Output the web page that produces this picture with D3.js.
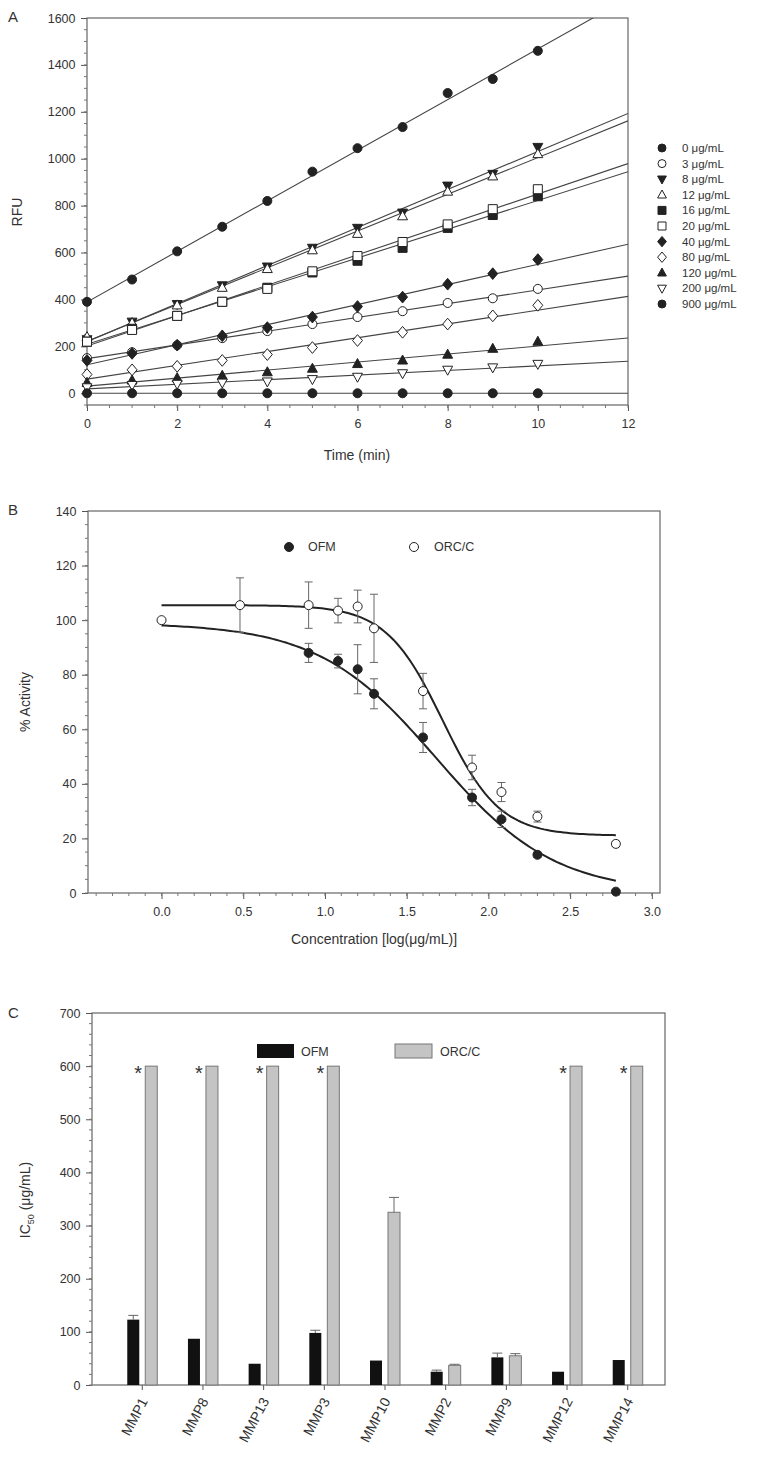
<!DOCTYPE html>
<html><head><meta charset="utf-8">
<script src="https://cdn.jsdelivr.net/npm/d3@7"></script>
<style>body{margin:0;background:#fff}text{font-family:"Liberation Sans",Arial,sans-serif;fill:#333}</style>
</head><body><svg id="c" width="766" height="1473"></svg>
<script>
// ---- Panel A data ----
const timeMin = [0,1,2,3,4,5,6,7,8,9,10];
const concLabels = ['0 μg/mL','3 μg/mL','8 μg/mL','12 μg/mL','16 μg/mL','20 μg/mL','40 μg/mL','80 μg/mL','120 μg/mL','200 μg/mL','900 μg/mL'];
const concSymbols = ['circle-f','circle-o','tridown-f','triup-o','square-f','square-o','diamond-f','diamond-o','triup-f','tridown-o','circle-f'];
const rfu = [
  [390,485,605,710,820,945,1045,1135,1280,1340,1460],
  [150,175,205,235,265,295,325,350,385,405,445],
  [230,305,380,460,540,620,705,770,885,935,1050],
  [240,300,375,450,530,610,680,755,860,925,1020],
  [220,275,330,390,450,515,565,620,705,760,840],
  [220,270,330,390,445,520,585,645,720,785,870],
  [140,170,205,245,280,325,370,410,465,510,570],
  [80,100,115,140,165,195,225,260,295,330,375],
  [45,55,65,75,90,105,125,140,165,190,220],
  [25,35,40,45,50,60,70,85,100,110,125],
  [0,0,0,0,0,0,0,0,0,0,0]
];
// ---- Panel B data ----
const ofmB = [[0.9,88,3.5],[1.08,85,2.5],[1.2,82,9],[1.3,73,5.5],[1.6,57,5.5],[1.9,35,3],[2.08,27,3],[2.3,14,1],[2.78,0.5,0]];
const orcB = [[0,100,0],[0.48,105.5,10],[0.9,105.5,8.5],[1.08,103.5,4.5],[1.2,105,6],[1.3,97,12.5],[1.6,74,6.5],[1.9,46,4.5],[2.08,37,3.5],[2.3,28,2],[2.78,18,1]];
const ofmFit = {top:99, bottom:0, x0:1.68, h:1.2};
const orcFit = {top:105.5, bottom:21, x0:1.72, h:2.5};
// ---- Panel C data ----
const mmps = ['MMP1','MMP8','MMP13','MMP3','MMP10','MMP2','MMP9','MMP12','MMP14'];
const ofmIC = [123,87,40,98,46,25,52,25,47];
const ofmErr = [8,0,0,5,0,3,8,0,0];
const orcIC = [600,600,600,600,325,37,55,600,600];
const orcErr = [0,0,0,0,28,2,4,0,0];
const starred = [true,true,true,true,false,false,false,true,true];

const svg = d3.select('#c');
const ink = '#222';

function sym(g, type, x, y, r) {
  const [shape, fill] = type.split('-');
  let el;
  if (shape === 'circle') el = g.append('circle').attr('cx', x).attr('cy', y).attr('r', r);
  else {
    let pts;
    if (shape === 'square') pts = [[-r,-r],[r,-r],[r,r],[-r,r]];
    if (shape === 'diamond') pts = [[0,-r*1.3],[r*1.1,0],[0,r*1.3],[-r*1.1,0]];
    if (shape === 'triup') pts = [[0,-r*1.2],[r*1.1,r*0.8],[-r*1.1,r*0.8]];
    if (shape === 'tridown') pts = [[0,r*1.2],[r*1.1,-r*0.8],[-r*1.1,-r*0.8]];
    el = g.append('polygon').attr('points', pts.map(p => [x+p[0], y+p[1]].join(',')).join(' '));
  }
  el.attr('fill', fill === 'f' ? ink : '#fff').attr('stroke', ink).attr('stroke-width', 1);
}

function frame(g, x, y, ticksX, ticksY, minorX, minorY, fmtX, fmtY) {
  const [x0, x1] = x.range(), [y0, y1] = y.range();
  g.append('rect').attr('x', x0).attr('y', y1).attr('width', x1-x0).attr('height', y0-y1)
    .attr('fill', 'none').attr('stroke', '#666').attr('stroke-width', 1.2);
  if (ticksX) {
    const ax = g.append('g').attr('transform', `translate(0,${y0})`)
      .call(d3.axisBottom(x).tickValues(ticksX).tickSize(6).tickFormat(fmtX));
    ax.select('.domain').remove();
    ax.selectAll('text').attr('font-size', 12.5).attr('dy', '1.1em');
    ax.selectAll('line').attr('stroke', '#555');
    g.selectAll(null).data(minorX).join('line').attr('x1', d => x(d)).attr('x2', d => x(d))
      .attr('y1', y0).attr('y2', y0+3).attr('stroke', '#777');
  }
  const ay = g.append('g').attr('transform', `translate(${x0},0)`)
    .call(d3.axisLeft(y).tickValues(ticksY).tickSize(6).tickFormat(fmtY));
  ay.select('.domain').remove();
  ay.selectAll('text').attr('font-size', 12.5).attr('dx', '-0.2em');
  ay.selectAll('line').attr('stroke', '#555');
  g.selectAll(null).data(minorY).join('line').attr('y1', d => y(d)).attr('y2', d => y(d))
    .attr('x1', x0).attr('x2', x0-3).attr('stroke', '#777');
}

// ================= Panel A =================
{
  const g = svg.append('g');
  const x = d3.scaleLinear().domain([0, 12]).range([87, 628]);
  const y = d3.scaleLinear().domain([-50, 1600]).range([405, 18]);
  frame(g, x, y, d3.range(0, 13, 2), d3.range(0, 1601, 200),
    d3.range(0, 12.01, 0.5), d3.range(-50, 1600, 50), d3.format('d'), d3.format('d'));
  g.append('text').attr('x', 8).attr('y', 22).attr('font-size', 15).text('A');
  g.append('text').attr('transform', 'translate(22,212) rotate(-90)').attr('text-anchor', 'middle')
    .attr('font-size', 14).text('RFU');
  g.append('text').attr('x', 357).attr('y', 460).attr('text-anchor', 'middle').attr('font-size', 14).text('Time (min)');
  svg.append('defs').append('clipPath').attr('id', 'clipA').append('rect')
    .attr('x', 87).attr('y', 18).attr('width', 541).attr('height', 387);
  rfu.forEach(vals => {
    const mx = d3.mean(timeMin), my = d3.mean(vals);
    const b = d3.sum(timeMin, (t, k) => (t-mx)*(vals[k]-my)) / d3.sum(timeMin, t => (t-mx)**2);
    const a = my - b*mx;
    g.append('line').attr('clip-path', 'url(#clipA)').attr('x1', x(0)).attr('y1', y(a))
      .attr('x2', x(12)).attr('y2', y(a + b*12)).attr('stroke', '#444').attr('stroke-width', 1.1);
  });
  rfu.forEach((vals, i) => vals.forEach((v, k) => sym(g, concSymbols[i], x(timeMin[k]), y(v), 4.5)));
  concLabels.forEach((l, i) => {
    const ly = 148 + i*15.6;
    sym(g, concSymbols[i], 662, ly, 4);
    g.append('text').attr('x', 682).attr('y', ly+4).attr('font-size', 11.5).text(l);
  });
}

// ================= Panel B =================
{
  const g = svg.append('g');
  const x = d3.scaleLinear().domain([-0.45, 3.05]).range([88, 660]);
  const y = d3.scaleLinear().domain([0, 140]).range([893, 511]);
  frame(g, x, y, d3.range(0, 3.01, 0.5), d3.range(0, 141, 20),
    d3.range(-0.4, 3.01, 0.1), d3.range(0, 140, 5), d3.format('.1f'), d3.format('d'));
  g.append('text').attr('x', 8).attr('y', 515).attr('font-size', 15).text('B');
  g.append('text').attr('transform', 'translate(30,702) rotate(-90)').attr('text-anchor', 'middle')
    .attr('font-size', 14).text('% Activity');
  g.append('text').attr('x', 374).attr('y', 944).attr('text-anchor', 'middle').attr('font-size', 14)
    .text('Concentration [log(μg/mL)]');
  const curve = p => d3.line().x(d => x(d)).y(d => y(p.bottom + (p.top-p.bottom)/(1 + Math.pow(10, (d-p.x0)*p.h))))
    (d3.range(0, 2.7801, 0.02));
  [ofmFit, orcFit].forEach(p => g.append('path').attr('d', curve(p)).attr('fill', 'none')
    .attr('stroke', ink).attr('stroke-width', 2));
  [[ofmB, 'circle-f'], [orcB, 'circle-o']].forEach(([data, s]) => {
    data.forEach(([cx, cy, e]) => {
      if (e > 0) {
        g.append('line').attr('x1', x(cx)).attr('x2', x(cx)).attr('y1', y(cy-e)).attr('y2', y(cy+e)).attr('stroke', '#666');
        [cy-e, cy+e].forEach(v => g.append('line').attr('x1', x(cx)-4).attr('x2', x(cx)+4)
          .attr('y1', y(v)).attr('y2', y(v)).attr('stroke', '#666'));
      }
    });
    data.forEach(([cx, cy]) => sym(g, s, x(cx), y(cy), 4.5));
  });
  sym(g, 'circle-f', 289, 547, 4.5);
  g.append('text').attr('x', 308).attr('y', 551).attr('font-size', 12.5).text('OFM');
  sym(g, 'circle-o', 414, 547, 4.5);
  g.append('text').attr('x', 434).attr('y', 551).attr('font-size', 12.5).text('ORC/C');
}

// ================= Panel C =================
{
  const g = svg.append('g');
  const y = d3.scaleLinear().domain([0, 700]).range([1385, 1013]);
  const x = d3.scaleBand().domain(mmps).range([118, 652]).paddingInner(0.2);
  const xl = d3.scaleLinear().domain([0, 1]).range([92, 665]);
  frame(g, xl, y, null, d3.range(0, 701, 100), [], d3.range(0, 700, 20), null, d3.format('d'));
  g.append('text').attr('x', 8).attr('y', 1018).attr('font-size', 15).text('C');
  const yl = g.append('text').attr('transform', 'translate(30,1200) rotate(-90)').attr('text-anchor', 'middle')
    .attr('font-size', 14);
  yl.append('tspan').text('IC');
  yl.append('tspan').attr('font-size', 9).attr('dy', 4).text('50');
  yl.append('tspan').attr('dy', -4).text(' (μg/mL)');
  const bw = 12;
  mmps.forEach((m, i) => {
    const c = x(m) + x.bandwidth()/2;
    const xo = c - bw - 3, xc = c + 3;
    g.append('rect').attr('x', xo).attr('y', y(ofmIC[i])).attr('width', bw).attr('height', y(0)-y(ofmIC[i])).attr('fill', '#111');
    g.append('rect').attr('x', xc).attr('y', y(orcIC[i])).attr('width', bw).attr('height', y(0)-y(orcIC[i]))
      .attr('fill', '#c4c4c4').attr('stroke', '#777');
    [[xo, ofmIC[i], ofmErr[i]], [xc, orcIC[i], orcErr[i]]].forEach(([bx, v, e]) => {
      if (e > 0) {
        g.append('line').attr('x1', bx+bw/2).attr('x2', bx+bw/2).attr('y1', y(v)).attr('y2', y(v+e)).attr('stroke', '#666');
        g.append('line').attr('x1', bx+1).attr('x2', bx+bw-1).attr('y1', y(v+e)).attr('y2', y(v+e)).attr('stroke', '#666');
      }
    });
    if (starred[i]) g.append('text').attr('x', c-4).attr('y', y(orcIC[i])+14).attr('text-anchor', 'middle')
      .attr('font-size', 20).text('*');
    g.append('line').attr('x1', c).attr('x2', c).attr('y1', y(0)).attr('y2', y(0)+5).attr('stroke', '#555');
    g.append('text').attr('transform', `translate(${c+6},${y(0)+16}) rotate(-62)`).attr('text-anchor', 'end')
      .attr('font-size', 14).text(m);
  });
  g.append('rect').attr('x', 257).attr('y', 1044).attr('width', 37).attr('height', 14).attr('fill', '#111');
  g.append('text').attr('x', 301).attr('y', 1056).attr('font-size', 12.5).text('OFM');
  g.append('rect').attr('x', 395).attr('y', 1044).attr('width', 37).attr('height', 14).attr('fill', '#c4c4c4').attr('stroke', '#777');
  g.append('text').attr('x', 440).attr('y', 1056).attr('font-size', 12.5).text('ORC/C');
}
</script></body></html>
